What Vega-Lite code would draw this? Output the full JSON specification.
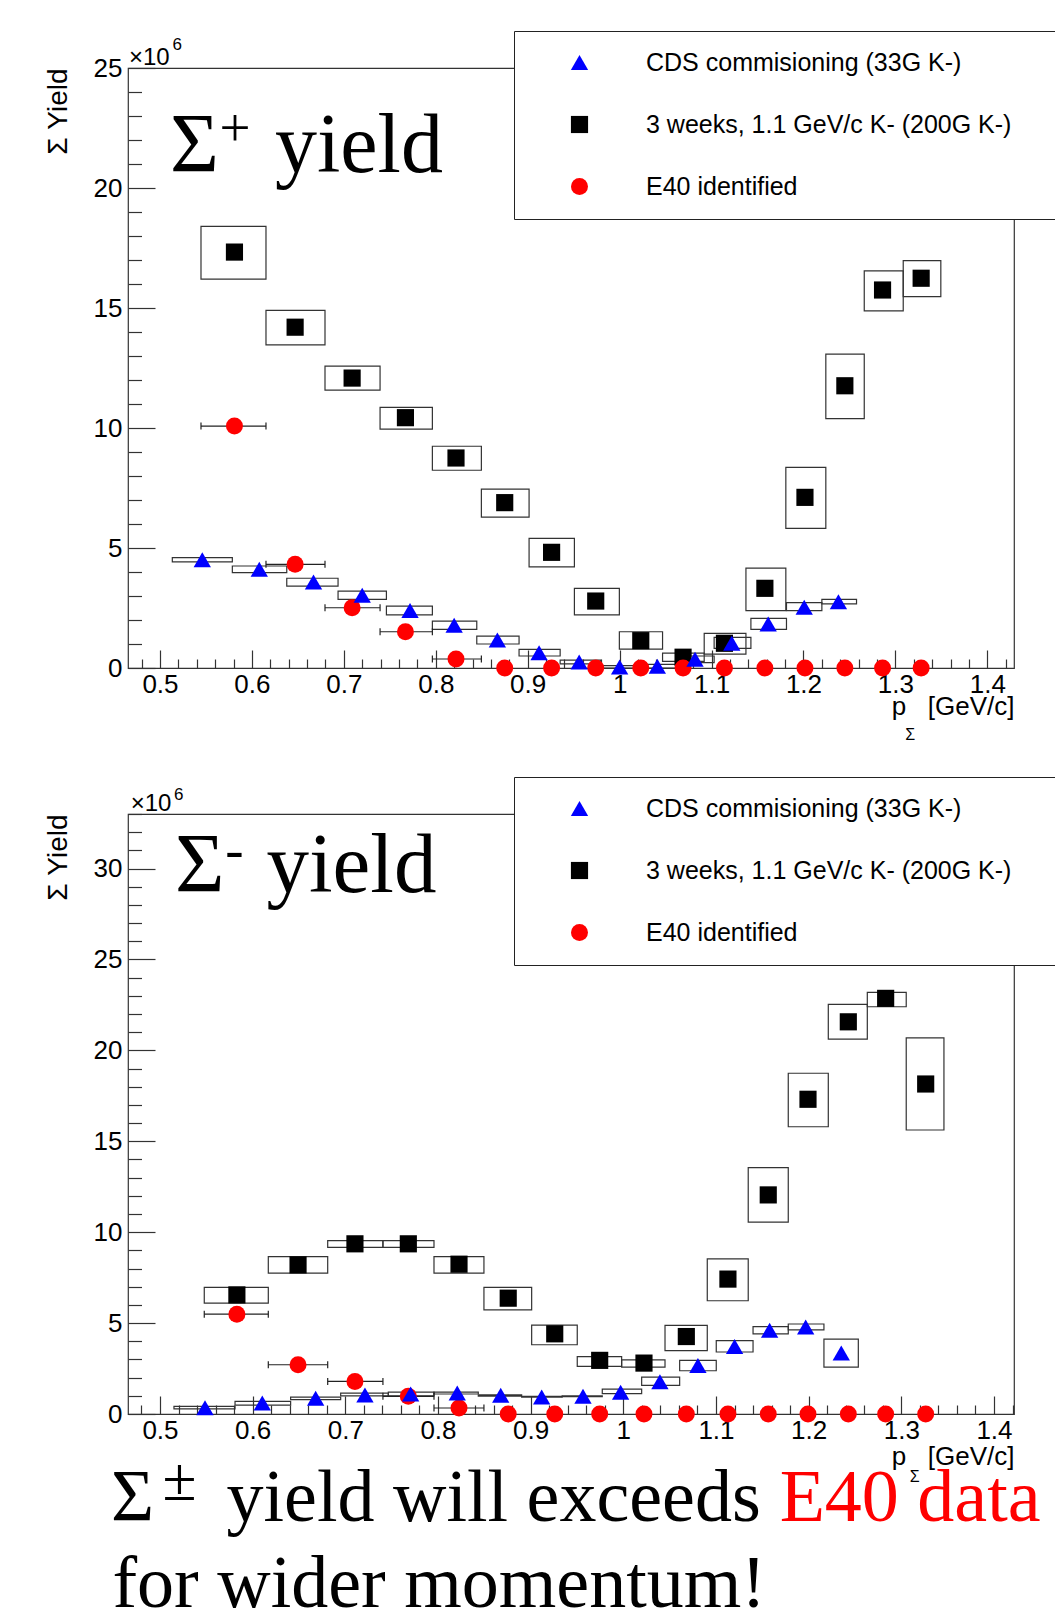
{
  "$schema": "https://vega.github.io/schema/vega-lite/v6.json",
  "autosize": {"type": "pad"},
  "padding": {"left": 43, "top": 29, "right": 0, "bottom": 0},
  "background": "white",
  "bounds": "flush",
  "spacing": 146,
  "datasets": {
    "top": [
      {"series": "3 weeks, 1.1 GeV/c K- (200G K-)", "x": 0.581, "y": 17.33, "xlo": 0.5446, "xhi": 0.6153, "ylo": 16.2, "yhi": 18.4},
      {"series": "3 weeks, 1.1 GeV/c K- (200G K-)", "x": 0.647, "y": 14.2, "xlo": 0.6153, "xhi": 0.6795, "ylo": 13.46, "yhi": 14.9},
      {"series": "3 weeks, 1.1 GeV/c K- (200G K-)", "x": 0.709, "y": 12.08, "xlo": 0.6795, "xhi": 0.7394, "ylo": 11.58, "yhi": 12.58},
      {"series": "3 weeks, 1.1 GeV/c K- (200G K-)", "x": 0.767, "y": 10.43, "xlo": 0.7394, "xhi": 0.7963, "ylo": 9.95, "yhi": 10.86},
      {"series": "3 weeks, 1.1 GeV/c K- (200G K-)", "x": 0.822, "y": 8.75, "xlo": 0.7963, "xhi": 0.8496, "ylo": 8.24, "yhi": 9.24},
      {"series": "3 weeks, 1.1 GeV/c K- (200G K-)", "x": 0.875, "y": 6.89, "xlo": 0.8496, "xhi": 0.9015, "ylo": 6.29, "yhi": 7.45},
      {"series": "3 weeks, 1.1 GeV/c K- (200G K-)", "x": 0.926, "y": 4.82, "xlo": 0.9015, "xhi": 0.9508, "ylo": 4.21, "yhi": 5.4},
      {"series": "3 weeks, 1.1 GeV/c K- (200G K-)", "x": 0.974, "y": 2.79, "xlo": 0.9508, "xhi": 0.9997, "ylo": 2.21, "yhi": 3.32},
      {"series": "3 weeks, 1.1 GeV/c K- (200G K-)", "x": 1.023, "y": 1.14, "xlo": 0.9997, "xhi": 1.0467, "ylo": 0.79, "yhi": 1.51},
      {"series": "3 weeks, 1.1 GeV/c K- (200G K-)", "x": 1.069, "y": 0.45, "xlo": 1.0467, "xhi": 1.092, "ylo": 0.28, "yhi": 0.62},
      {"series": "3 weeks, 1.1 GeV/c K- (200G K-)", "x": 1.114, "y": 1.03, "xlo": 1.092, "xhi": 1.1374, "ylo": 0.58, "yhi": 1.44},
      {"series": "3 weeks, 1.1 GeV/c K- (200G K-)", "x": 1.158, "y": 3.32, "xlo": 1.1374, "xhi": 1.1808, "ylo": 2.39, "yhi": 4.16},
      {"series": "3 weeks, 1.1 GeV/c K- (200G K-)", "x": 1.2016, "y": 7.11, "xlo": 1.1808, "xhi": 1.2243, "ylo": 5.82, "yhi": 8.36},
      {"series": "3 weeks, 1.1 GeV/c K- (200G K-)", "x": 1.245, "y": 11.76, "xlo": 1.2243, "xhi": 1.2661, "ylo": 10.39, "yhi": 13.08},
      {"series": "3 weeks, 1.1 GeV/c K- (200G K-)", "x": 1.286, "y": 15.75, "xlo": 1.2661, "xhi": 1.3085, "ylo": 14.88, "yhi": 16.55},
      {"series": "3 weeks, 1.1 GeV/c K- (200G K-)", "x": 1.328, "y": 16.24, "xlo": 1.3085, "xhi": 1.3494, "ylo": 15.47, "yhi": 16.97},
      {"series": "E40 identified", "x": 0.581, "y": 10.08, "xlo": 0.5446, "xhi": 0.6153},
      {"series": "E40 identified", "x": 0.647, "y": 4.32, "xlo": 0.6153, "xhi": 0.6795},
      {"series": "E40 identified", "x": 0.709, "y": 2.51, "xlo": 0.6795, "xhi": 0.7394},
      {"series": "E40 identified", "x": 0.767, "y": 1.51, "xlo": 0.7394, "xhi": 0.7963},
      {"series": "E40 identified", "x": 0.822, "y": 0.375, "xlo": 0.7963, "xhi": 0.8496},
      {"series": "E40 identified", "x": 0.875, "y": 0},
      {"series": "E40 identified", "x": 0.926, "y": 0},
      {"series": "E40 identified", "x": 0.974, "y": 0},
      {"series": "E40 identified", "x": 1.023, "y": 0},
      {"series": "E40 identified", "x": 1.069, "y": 0},
      {"series": "E40 identified", "x": 1.114, "y": 0},
      {"series": "E40 identified", "x": 1.158, "y": 0},
      {"series": "E40 identified", "x": 1.2016, "y": 0},
      {"series": "E40 identified", "x": 1.245, "y": 0},
      {"series": "E40 identified", "x": 1.286, "y": 0},
      {"series": "E40 identified", "x": 1.328, "y": 0},
      {"series": "CDS commisioning (33G K-)", "x": 0.546, "y": 4.51, "xlo": 0.5134, "xhi": 0.5787, "ylo": 4.42, "yhi": 4.6},
      {"series": "CDS commisioning (33G K-)", "x": 0.608, "y": 4.11, "xlo": 0.5787, "xhi": 0.6379, "ylo": 3.97, "yhi": 4.25},
      {"series": "CDS commisioning (33G K-)", "x": 0.667, "y": 3.58, "xlo": 0.6379, "xhi": 0.6937, "ylo": 3.41, "yhi": 3.74},
      {"series": "CDS commisioning (33G K-)", "x": 0.72, "y": 3.03, "xlo": 0.6937, "xhi": 0.7463, "ylo": 2.86, "yhi": 3.2},
      {"series": "CDS commisioning (33G K-)", "x": 0.772, "y": 2.4, "xlo": 0.7463, "xhi": 0.7963, "ylo": 2.21, "yhi": 2.58},
      {"series": "CDS commisioning (33G K-)", "x": 0.82, "y": 1.78, "xlo": 0.7963, "xhi": 0.8446, "ylo": 1.61, "yhi": 1.95},
      {"series": "CDS commisioning (33G K-)", "x": 0.867, "y": 1.17, "xlo": 0.8446, "xhi": 0.8906, "ylo": 1.0, "yhi": 1.33},
      {"series": "CDS commisioning (33G K-)", "x": 0.9124, "y": 0.64, "xlo": 0.8906, "xhi": 0.9353, "ylo": 0.5, "yhi": 0.78},
      {"series": "CDS commisioning (33G K-)", "x": 0.956, "y": 0.25, "xlo": 0.9353, "xhi": 0.9795, "ylo": 0.17, "yhi": 0.33},
      {"series": "CDS commisioning (33G K-)", "x": 1.0, "y": 0.04, "xlo": 0.9795, "xhi": 1.0212, "ylo": 0.0, "yhi": 0.1},
      {"series": "CDS commisioning (33G K-)", "x": 1.041, "y": 0.07, "xlo": 1.0212, "xhi": 1.0611, "ylo": 0.0, "yhi": 0.15},
      {"series": "CDS commisioning (33G K-)", "x": 1.082, "y": 0.36, "xlo": 1.0611, "xhi": 1.1028, "ylo": 0.22, "yhi": 0.5},
      {"series": "CDS commisioning (33G K-)", "x": 1.122, "y": 1.03, "xlo": 1.1028, "xhi": 1.1428, "ylo": 0.82, "yhi": 1.28},
      {"series": "CDS commisioning (33G K-)", "x": 1.1616, "y": 1.83, "xlo": 1.1428, "xhi": 1.1815, "ylo": 1.61, "yhi": 2.07},
      {"series": "CDS commisioning (33G K-)", "x": 1.2008, "y": 2.53, "xlo": 1.1815, "xhi": 1.22, "ylo": 2.39, "yhi": 2.72},
      {"series": "CDS commisioning (33G K-)", "x": 1.238, "y": 2.76, "xlo": 1.22, "xhi": 1.2577, "ylo": 2.67, "yhi": 2.86}
    ],
    "bot": [
      {"series": "3 weeks, 1.1 GeV/c K- (200G K-)", "x": 0.583, "y": 6.55, "xlo": 0.5478, "xhi": 0.6169, "ylo": 6.1, "yhi": 6.96},
      {"series": "3 weeks, 1.1 GeV/c K- (200G K-)", "x": 0.649, "y": 8.2, "xlo": 0.6169, "xhi": 0.681, "ylo": 7.75, "yhi": 8.66},
      {"series": "3 weeks, 1.1 GeV/c K- (200G K-)", "x": 0.7104, "y": 9.36, "xlo": 0.681, "xhi": 0.7406, "ylo": 9.16, "yhi": 9.54},
      {"series": "3 weeks, 1.1 GeV/c K- (200G K-)", "x": 0.768, "y": 9.36, "xlo": 0.7406, "xhi": 0.7957, "ylo": 9.16, "yhi": 9.54},
      {"series": "3 weeks, 1.1 GeV/c K- (200G K-)", "x": 0.8227, "y": 8.24, "xlo": 0.7957, "xhi": 0.8496, "ylo": 7.75, "yhi": 8.66},
      {"series": "3 weeks, 1.1 GeV/c K- (200G K-)", "x": 0.8758, "y": 6.37, "xlo": 0.8496, "xhi": 0.9011, "ylo": 5.73, "yhi": 6.96},
      {"series": "3 weeks, 1.1 GeV/c K- (200G K-)", "x": 0.926, "y": 4.41, "xlo": 0.9011, "xhi": 0.9503, "ylo": 3.81, "yhi": 4.89},
      {"series": "3 weeks, 1.1 GeV/c K- (200G K-)", "x": 0.9745, "y": 2.95, "xlo": 0.9503, "xhi": 0.9982, "ylo": 2.62, "yhi": 3.16},
      {"series": "3 weeks, 1.1 GeV/c K- (200G K-)", "x": 1.0223, "y": 2.8, "xlo": 0.9982, "xhi": 1.045, "ylo": 2.58, "yhi": 2.98},
      {"series": "3 weeks, 1.1 GeV/c K- (200G K-)", "x": 1.068, "y": 4.26, "xlo": 1.045, "xhi": 1.0906, "ylo": 3.49, "yhi": 4.87},
      {"series": "3 weeks, 1.1 GeV/c K- (200G K-)", "x": 1.1129, "y": 7.42, "xlo": 1.0906, "xhi": 1.1348, "ylo": 6.23, "yhi": 8.53},
      {"series": "3 weeks, 1.1 GeV/c K- (200G K-)", "x": 1.1564, "y": 12.05, "xlo": 1.1348, "xhi": 1.178, "ylo": 10.55, "yhi": 13.55},
      {"series": "3 weeks, 1.1 GeV/c K- (200G K-)", "x": 1.1993, "y": 17.31, "xlo": 1.178, "xhi": 1.2212, "ylo": 15.8, "yhi": 18.74},
      {"series": "3 weeks, 1.1 GeV/c K- (200G K-)", "x": 1.2428, "y": 21.57, "xlo": 1.2212, "xhi": 1.2633, "ylo": 20.62, "yhi": 22.53},
      {"series": "3 weeks, 1.1 GeV/c K- (200G K-)", "x": 1.2831, "y": 22.86, "xlo": 1.2633, "xhi": 1.3053, "ylo": 22.4, "yhi": 23.19},
      {"series": "3 weeks, 1.1 GeV/c K- (200G K-)", "x": 1.3263, "y": 18.15, "xlo": 1.3053, "xhi": 1.346, "ylo": 15.62, "yhi": 20.69},
      {"series": "E40 identified", "x": 0.583, "y": 5.49, "xlo": 0.5478, "xhi": 0.6169},
      {"series": "E40 identified", "x": 0.649, "y": 2.71, "xlo": 0.6169, "xhi": 0.681},
      {"series": "E40 identified", "x": 0.7104, "y": 1.79, "xlo": 0.681, "xhi": 0.7406},
      {"series": "E40 identified", "x": 0.768, "y": 0.97, "xlo": 0.7406, "xhi": 0.7957},
      {"series": "E40 identified", "x": 0.8227, "y": 0.33, "xlo": 0.7957, "xhi": 0.8496},
      {"series": "E40 identified", "x": 0.8758, "y": 0},
      {"series": "E40 identified", "x": 0.926, "y": 0},
      {"series": "E40 identified", "x": 0.9745, "y": 0},
      {"series": "E40 identified", "x": 1.0223, "y": 0},
      {"series": "E40 identified", "x": 1.068, "y": 0},
      {"series": "E40 identified", "x": 1.1129, "y": 0},
      {"series": "E40 identified", "x": 1.1564, "y": 0},
      {"series": "E40 identified", "x": 1.1993, "y": 0},
      {"series": "E40 identified", "x": 1.2428, "y": 0},
      {"series": "E40 identified", "x": 1.2831, "y": 0},
      {"series": "E40 identified", "x": 1.3263, "y": 0},
      {"series": "CDS commisioning (33G K-)", "x": 0.5486, "y": 0.35, "xlo": 0.5151, "xhi": 0.581, "ylo": 0.28, "yhi": 0.42},
      {"series": "CDS commisioning (33G K-)", "x": 0.6104, "y": 0.6, "xlo": 0.581, "xhi": 0.641, "ylo": 0.49, "yhi": 0.69},
      {"series": "CDS commisioning (33G K-)", "x": 0.668, "y": 0.86, "xlo": 0.641, "xhi": 0.695, "ylo": 0.79, "yhi": 0.93},
      {"series": "CDS commisioning (33G K-)", "x": 0.7212, "y": 1.05, "xlo": 0.695, "xhi": 0.7464, "ylo": 1.0, "yhi": 1.15},
      {"series": "CDS commisioning (33G K-)", "x": 0.7705, "y": 1.1, "xlo": 0.7464, "xhi": 0.7957, "ylo": 1.0, "yhi": 1.2},
      {"series": "CDS commisioning (33G K-)", "x": 0.8208, "y": 1.15, "xlo": 0.7957, "xhi": 0.8435, "ylo": 1.1, "yhi": 1.2},
      {"series": "CDS commisioning (33G K-)", "x": 0.8677, "y": 1.03, "xlo": 0.8435, "xhi": 0.8903, "ylo": 0.98, "yhi": 1.05},
      {"series": "CDS commisioning (33G K-)", "x": 0.9119, "y": 0.94, "xlo": 0.8903, "xhi": 0.934, "ylo": 0.92, "yhi": 0.97},
      {"series": "CDS commisioning (33G K-)", "x": 0.9565, "y": 0.98, "xlo": 0.934, "xhi": 0.9773, "ylo": 0.95, "yhi": 1.0},
      {"series": "CDS commisioning (33G K-)", "x": 0.9971, "y": 1.2, "xlo": 0.9773, "xhi": 1.0198, "ylo": 1.12, "yhi": 1.37},
      {"series": "CDS commisioning (33G K-)", "x": 1.0395, "y": 1.78, "xlo": 1.0198, "xhi": 1.0608, "ylo": 1.57, "yhi": 2.03},
      {"series": "CDS commisioning (33G K-)", "x": 1.0805, "y": 2.67, "xlo": 1.0608, "xhi": 1.1003, "ylo": 2.38, "yhi": 2.95},
      {"series": "CDS commisioning (33G K-)", "x": 1.1201, "y": 3.71, "xlo": 1.1003, "xhi": 1.14, "ylo": 3.41, "yhi": 4.04},
      {"series": "CDS commisioning (33G K-)", "x": 1.1579, "y": 4.6, "xlo": 1.14, "xhi": 1.178, "ylo": 4.41, "yhi": 4.81},
      {"series": "CDS commisioning (33G K-)", "x": 1.1968, "y": 4.78, "xlo": 1.178, "xhi": 1.2165, "ylo": 4.63, "yhi": 4.95},
      {"series": "CDS commisioning (33G K-)", "x": 1.2352, "y": 3.35, "xlo": 1.2165, "xhi": 1.2536, "ylo": 2.58, "yhi": 4.12}
    ]
  },
  "vconcat": [
    {
      "width": 886,
      "height": 600,
      "data": {"name": "top"},
      "layer": [
        {
          "transform": [{"filter": "isValid(datum.ylo)"}],
          "mark": {"type": "rect", "fill": "transparent", "stroke": "#333", "strokeWidth": 1.2},
          "encoding": {
            "x": {"field": "xlo", "type": "quantitative", "scale": {"domain": [0.4652, 1.429], "nice": false, "zero": false},
              "axis": {"values": [0.48, 0.5, 0.52, 0.54, 0.56, 0.58, 0.6, 0.62, 0.64, 0.66, 0.68, 0.7, 0.72, 0.74, 0.76, 0.78, 0.8, 0.82, 0.84, 0.86, 0.88, 0.9, 0.92, 0.94, 0.96, 0.98, 1, 1.02, 1.04, 1.06, 1.08, 1.1, 1.12, 1.14, 1.16, 1.18, 1.2, 1.22, 1.24, 1.26, 1.28, 1.3, 1.32, 1.34, 1.36, 1.38, 1.4, 1.42], "tickCount": 60, "labelExpr": "abs(datum.value*10 - round(datum.value*10)) < 0.001 ? format(datum.value, '~g') : ''", "tickSize": {"condition": {"test": "abs(datum.value*10 - round(datum.value*10)) < 0.001", "value": -18}, "value": -9}, "labelPadding": 21, "title": "p\u00a0\u00a0\u00a0[GeV/c]", "titleAnchor": "end", "titleFontSize": 26, "titlePadding": -13}},
            "x2": {"field": "xhi"},
            "y": {"field": "ylo", "type": "quantitative", "scale": {"domain": [0, 25], "nice": false, "zero": false},
              "axis": {"values": [0, 1, 2, 3, 4, 5, 6, 7, 8, 9, 10, 11, 12, 13, 14, 15, 16, 17, 18, 19, 20, 21, 22, 23, 24, 25], "tickCount": 40, "labelExpr": "datum.value % 5 == 0 ? format(datum.value, 'd') : ''", "tickSize": {"condition": {"test": "datum.value % 5 == 0", "value": -27}, "value": -13.5}, "labelPadding": 33, "title": "Σ Yield", "titleAnchor": "end", "titleFontSize": 28, "titlePadding": 21}},
            "y2": {"field": "yhi"}
          }
        },
        {
          "transform": [{"filter": "datum.series == 'E40 identified' && isValid(datum.xlo)"}],
          "mark": {"type": "rule", "color": "#222", "strokeWidth": 1.2},
          "encoding": {
            "x": {"field": "xlo", "type": "quantitative", "scale": {"domain": [0.4652, 1.429], "nice": false, "zero": false},
              "axis": {"values": [0.48, 0.5, 0.52, 0.54, 0.56, 0.58, 0.6, 0.62, 0.64, 0.66, 0.68, 0.7, 0.72, 0.74, 0.76, 0.78, 0.8, 0.82, 0.84, 0.86, 0.88, 0.9, 0.92, 0.94, 0.96, 0.98, 1, 1.02, 1.04, 1.06, 1.08, 1.1, 1.12, 1.14, 1.16, 1.18, 1.2, 1.22, 1.24, 1.26, 1.28, 1.3, 1.32, 1.34, 1.36, 1.38, 1.4, 1.42], "tickCount": 60, "labelExpr": "abs(datum.value*10 - round(datum.value*10)) < 0.001 ? format(datum.value, '~g') : ''", "tickSize": {"condition": {"test": "abs(datum.value*10 - round(datum.value*10)) < 0.001", "value": -18}, "value": -9}, "labelPadding": 21, "title": "p\u00a0\u00a0\u00a0[GeV/c]", "titleAnchor": "end", "titleFontSize": 26, "titlePadding": -13}},
            "x2": {"field": "xhi"},
            "y": {"field": "y", "type": "quantitative", "scale": {"domain": [0, 25], "nice": false, "zero": false},
              "axis": {"values": [0, 1, 2, 3, 4, 5, 6, 7, 8, 9, 10, 11, 12, 13, 14, 15, 16, 17, 18, 19, 20, 21, 22, 23, 24, 25], "tickCount": 40, "labelExpr": "datum.value % 5 == 0 ? format(datum.value, 'd') : ''", "tickSize": {"condition": {"test": "datum.value % 5 == 0", "value": -27}, "value": -13.5}, "labelPadding": 33, "title": "Σ Yield", "titleAnchor": "end", "titleFontSize": 28, "titlePadding": 21}}
          }
        },
        {
          "transform": [{"filter": "datum.series == 'E40 identified' && isValid(datum.xlo)"}, {"fold": ["xlo", "xhi"], "as": ["end", "xe"]}],
          "mark": {"type": "tick", "orient": "vertical", "size": 7, "thickness": 1.2, "color": "#222", "opacity": 1},
          "encoding": {
            "x": {"field": "xe", "type": "quantitative", "scale": {"domain": [0.4652, 1.429], "nice": false, "zero": false},
              "axis": {"values": [0.48, 0.5, 0.52, 0.54, 0.56, 0.58, 0.6, 0.62, 0.64, 0.66, 0.68, 0.7, 0.72, 0.74, 0.76, 0.78, 0.8, 0.82, 0.84, 0.86, 0.88, 0.9, 0.92, 0.94, 0.96, 0.98, 1, 1.02, 1.04, 1.06, 1.08, 1.1, 1.12, 1.14, 1.16, 1.18, 1.2, 1.22, 1.24, 1.26, 1.28, 1.3, 1.32, 1.34, 1.36, 1.38, 1.4, 1.42], "tickCount": 60, "labelExpr": "abs(datum.value*10 - round(datum.value*10)) < 0.001 ? format(datum.value, '~g') : ''", "tickSize": {"condition": {"test": "abs(datum.value*10 - round(datum.value*10)) < 0.001", "value": -18}, "value": -9}, "labelPadding": 21, "title": "p\u00a0\u00a0\u00a0[GeV/c]", "titleAnchor": "end", "titleFontSize": 26, "titlePadding": -13}},
            "y": {"field": "y", "type": "quantitative", "scale": {"domain": [0, 25], "nice": false, "zero": false},
              "axis": {"values": [0, 1, 2, 3, 4, 5, 6, 7, 8, 9, 10, 11, 12, 13, 14, 15, 16, 17, 18, 19, 20, 21, 22, 23, 24, 25], "tickCount": 40, "labelExpr": "datum.value % 5 == 0 ? format(datum.value, 'd') : ''", "tickSize": {"condition": {"test": "datum.value % 5 == 0", "value": -27}, "value": -13.5}, "labelPadding": 33, "title": "Σ Yield", "titleAnchor": "end", "titleFontSize": 28, "titlePadding": 21}}
          }
        },
        {
          "mark": {"type": "point", "filled": true, "opacity": 1, "strokeWidth": 0},
          "encoding": {
            "x": {"field": "x", "type": "quantitative", "scale": {"domain": [0.4652, 1.429], "nice": false, "zero": false},
              "axis": {"values": [0.48, 0.5, 0.52, 0.54, 0.56, 0.58, 0.6, 0.62, 0.64, 0.66, 0.68, 0.7, 0.72, 0.74, 0.76, 0.78, 0.8, 0.82, 0.84, 0.86, 0.88, 0.9, 0.92, 0.94, 0.96, 0.98, 1, 1.02, 1.04, 1.06, 1.08, 1.1, 1.12, 1.14, 1.16, 1.18, 1.2, 1.22, 1.24, 1.26, 1.28, 1.3, 1.32, 1.34, 1.36, 1.38, 1.4, 1.42], "tickCount": 60, "labelExpr": "abs(datum.value*10 - round(datum.value*10)) < 0.001 ? format(datum.value, '~g') : ''", "tickSize": {"condition": {"test": "abs(datum.value*10 - round(datum.value*10)) < 0.001", "value": -18}, "value": -9}, "labelPadding": 21, "title": "p\u00a0\u00a0\u00a0[GeV/c]", "titleAnchor": "end", "titleFontSize": 26, "titlePadding": -13}},
            "y": {"field": "y", "type": "quantitative", "scale": {"domain": [0, 25], "nice": false, "zero": false},
              "axis": {"values": [0, 1, 2, 3, 4, 5, 6, 7, 8, 9, 10, 11, 12, 13, 14, 15, 16, 17, 18, 19, 20, 21, 22, 23, 24, 25], "tickCount": 40, "labelExpr": "datum.value % 5 == 0 ? format(datum.value, 'd') : ''", "tickSize": {"condition": {"test": "datum.value % 5 == 0", "value": -27}, "value": -13.5}, "labelPadding": 33, "title": "Σ Yield", "titleAnchor": "end", "titleFontSize": 28, "titlePadding": 21}},
            "size": {"field": "series", "type": "nominal", "scale": {"domain": ["CDS commisioning (33G K-)", "3 weeks, 1.1 GeV/c K- (200G K-)", "E40 identified"], "range": [300, 289, 230]}, "legend": null},
            "color": {"field": "series", "type": "nominal",
              "scale": {"domain": ["CDS commisioning (33G K-)", "3 weeks, 1.1 GeV/c K- (200G K-)", "E40 identified"], "range": ["#0000ff", "#000000", "#ff0000"]},
              "legend": {"title": "MMMMMM", "titleOrient": "right", "titleColor": "white", "titleFontSize": 25, "titlePadding": 0, "orient": "none", "legendX": 386, "legendY": -37, "padding": 19, "fillColor": "white", "strokeColor": "#222", "symbolSize": 280, "symbolOffset": 34, "labelOffset": 54, "rowPadding": 36, "labelFont": "Liberation Sans", "labelFontSize": 25, "labelColor": "black", "labelLimit": 1000, "symbolStrokeWidth": 0}},
            "shape": {"field": "series", "type": "nominal",
              "scale": {"domain": ["CDS commisioning (33G K-)", "3 weeks, 1.1 GeV/c K- (200G K-)", "E40 identified"], "range": ["triangle-up", "square", "circle"]},
              "legend": {"title": "MMMMMM", "titleOrient": "right", "titleColor": "white", "titleFontSize": 25, "titlePadding": 0, "orient": "none", "legendX": 386, "legendY": -37, "padding": 19, "fillColor": "white", "strokeColor": "#222", "symbolSize": 280, "symbolOffset": 34, "labelOffset": 54, "rowPadding": 36, "labelFont": "Liberation Sans", "labelFontSize": 25, "labelColor": "black", "labelLimit": 1000, "symbolStrokeWidth": 0}}
          }
        },
        {
          "data": {"values": [{"t": "Σ"}]},
          "mark": {"type": "text", "font": "Liberation Serif", "fontSize": 84, "align": "left", "baseline": "alphabetic", "color": "black"},
          "encoding": {
            "text": {"field": "t"},
            "x": {"datum": 0.5109, "type": "quantitative", "scale": {"domain": [0.4652, 1.429], "nice": false, "zero": false},
              "axis": {"values": [0.48, 0.5, 0.52, 0.54, 0.56, 0.58, 0.6, 0.62, 0.64, 0.66, 0.68, 0.7, 0.72, 0.74, 0.76, 0.78, 0.8, 0.82, 0.84, 0.86, 0.88, 0.9, 0.92, 0.94, 0.96, 0.98, 1, 1.02, 1.04, 1.06, 1.08, 1.1, 1.12, 1.14, 1.16, 1.18, 1.2, 1.22, 1.24, 1.26, 1.28, 1.3, 1.32, 1.34, 1.36, 1.38, 1.4, 1.42], "tickCount": 60, "labelExpr": "abs(datum.value*10 - round(datum.value*10)) < 0.001 ? format(datum.value, '~g') : ''", "tickSize": {"condition": {"test": "abs(datum.value*10 - round(datum.value*10)) < 0.001", "value": -18}, "value": -9}, "labelPadding": 21, "title": "p\u00a0\u00a0\u00a0[GeV/c]", "titleAnchor": "end", "titleFontSize": 26, "titlePadding": -13}},
            "y": {"datum": 20.68, "type": "quantitative", "scale": {"domain": [0, 25], "nice": false, "zero": false},
              "axis": {"values": [0, 1, 2, 3, 4, 5, 6, 7, 8, 9, 10, 11, 12, 13, 14, 15, 16, 17, 18, 19, 20, 21, 22, 23, 24, 25], "tickCount": 40, "labelExpr": "datum.value % 5 == 0 ? format(datum.value, 'd') : ''", "tickSize": {"condition": {"test": "datum.value % 5 == 0", "value": -27}, "value": -13.5}, "labelPadding": 33, "title": "Σ Yield", "titleAnchor": "end", "titleFontSize": 28, "titlePadding": 21}}
          }
        },
        {
          "data": {"values": [{"t": "+"}]},
          "mark": {"type": "text", "font": "Liberation Serif", "fontSize": 55, "align": "center", "baseline": "alphabetic", "color": "black"},
          "encoding": {
            "text": {"field": "t"},
            "x": {"datum": 0.5816, "type": "quantitative", "scale": {"domain": [0.4652, 1.429], "nice": false, "zero": false},
              "axis": {"values": [0.48, 0.5, 0.52, 0.54, 0.56, 0.58, 0.6, 0.62, 0.64, 0.66, 0.68, 0.7, 0.72, 0.74, 0.76, 0.78, 0.8, 0.82, 0.84, 0.86, 0.88, 0.9, 0.92, 0.94, 0.96, 0.98, 1, 1.02, 1.04, 1.06, 1.08, 1.1, 1.12, 1.14, 1.16, 1.18, 1.2, 1.22, 1.24, 1.26, 1.28, 1.3, 1.32, 1.34, 1.36, 1.38, 1.4, 1.42], "tickCount": 60, "labelExpr": "abs(datum.value*10 - round(datum.value*10)) < 0.001 ? format(datum.value, '~g') : ''", "tickSize": {"condition": {"test": "abs(datum.value*10 - round(datum.value*10)) < 0.001", "value": -18}, "value": -9}, "labelPadding": 21, "title": "p\u00a0\u00a0\u00a0[GeV/c]", "titleAnchor": "end", "titleFontSize": 26, "titlePadding": -13}},
            "y": {"datum": 21.75, "type": "quantitative", "scale": {"domain": [0, 25], "nice": false, "zero": false},
              "axis": {"values": [0, 1, 2, 3, 4, 5, 6, 7, 8, 9, 10, 11, 12, 13, 14, 15, 16, 17, 18, 19, 20, 21, 22, 23, 24, 25], "tickCount": 40, "labelExpr": "datum.value % 5 == 0 ? format(datum.value, 'd') : ''", "tickSize": {"condition": {"test": "datum.value % 5 == 0", "value": -27}, "value": -13.5}, "labelPadding": 33, "title": "Σ Yield", "titleAnchor": "end", "titleFontSize": 28, "titlePadding": 21}}
          }
        },
        {
          "data": {"values": [{"t": "yield"}]},
          "mark": {"type": "text", "font": "Liberation Serif", "fontSize": 84, "align": "left", "baseline": "alphabetic", "color": "black"},
          "encoding": {
            "text": {"field": "t"},
            "x": {"datum": 0.6251, "type": "quantitative", "scale": {"domain": [0.4652, 1.429], "nice": false, "zero": false},
              "axis": {"values": [0.48, 0.5, 0.52, 0.54, 0.56, 0.58, 0.6, 0.62, 0.64, 0.66, 0.68, 0.7, 0.72, 0.74, 0.76, 0.78, 0.8, 0.82, 0.84, 0.86, 0.88, 0.9, 0.92, 0.94, 0.96, 0.98, 1, 1.02, 1.04, 1.06, 1.08, 1.1, 1.12, 1.14, 1.16, 1.18, 1.2, 1.22, 1.24, 1.26, 1.28, 1.3, 1.32, 1.34, 1.36, 1.38, 1.4, 1.42], "tickCount": 60, "labelExpr": "abs(datum.value*10 - round(datum.value*10)) < 0.001 ? format(datum.value, '~g') : ''", "tickSize": {"condition": {"test": "abs(datum.value*10 - round(datum.value*10)) < 0.001", "value": -18}, "value": -9}, "labelPadding": 21, "title": "p\u00a0\u00a0\u00a0[GeV/c]", "titleAnchor": "end", "titleFontSize": 26, "titlePadding": -13}},
            "y": {"datum": 20.68, "type": "quantitative", "scale": {"domain": [0, 25], "nice": false, "zero": false},
              "axis": {"values": [0, 1, 2, 3, 4, 5, 6, 7, 8, 9, 10, 11, 12, 13, 14, 15, 16, 17, 18, 19, 20, 21, 22, 23, 24, 25], "tickCount": 40, "labelExpr": "datum.value % 5 == 0 ? format(datum.value, 'd') : ''", "tickSize": {"condition": {"test": "datum.value % 5 == 0", "value": -27}, "value": -13.5}, "labelPadding": 33, "title": "Σ Yield", "titleAnchor": "end", "titleFontSize": 28, "titlePadding": 21}}
          }
        },
        {
          "data": {"values": [{"t": "×10"}]},
          "mark": {"type": "text", "font": "Liberation Sans", "fontSize": 24, "align": "left", "baseline": "alphabetic", "color": "black"},
          "encoding": {
            "text": {"field": "t"},
            "x": {"datum": 0.4663, "type": "quantitative", "scale": {"domain": [0.4652, 1.429], "nice": false, "zero": false},
              "axis": {"values": [0.48, 0.5, 0.52, 0.54, 0.56, 0.58, 0.6, 0.62, 0.64, 0.66, 0.68, 0.7, 0.72, 0.74, 0.76, 0.78, 0.8, 0.82, 0.84, 0.86, 0.88, 0.9, 0.92, 0.94, 0.96, 0.98, 1, 1.02, 1.04, 1.06, 1.08, 1.1, 1.12, 1.14, 1.16, 1.18, 1.2, 1.22, 1.24, 1.26, 1.28, 1.3, 1.32, 1.34, 1.36, 1.38, 1.4, 1.42], "tickCount": 60, "labelExpr": "abs(datum.value*10 - round(datum.value*10)) < 0.001 ? format(datum.value, '~g') : ''", "tickSize": {"condition": {"test": "abs(datum.value*10 - round(datum.value*10)) < 0.001", "value": -18}, "value": -9}, "labelPadding": 21, "title": "p\u00a0\u00a0\u00a0[GeV/c]", "titleAnchor": "end", "titleFontSize": 26, "titlePadding": -13}},
            "y": {"datum": 25.125, "type": "quantitative", "scale": {"domain": [0, 25], "nice": false, "zero": false},
              "axis": {"values": [0, 1, 2, 3, 4, 5, 6, 7, 8, 9, 10, 11, 12, 13, 14, 15, 16, 17, 18, 19, 20, 21, 22, 23, 24, 25], "tickCount": 40, "labelExpr": "datum.value % 5 == 0 ? format(datum.value, 'd') : ''", "tickSize": {"condition": {"test": "datum.value % 5 == 0", "value": -27}, "value": -13.5}, "labelPadding": 33, "title": "Σ Yield", "titleAnchor": "end", "titleFontSize": 28, "titlePadding": 21}}
          }
        },
        {
          "data": {"values": [{"t": "6"}]},
          "mark": {"type": "text", "font": "Liberation Sans", "fontSize": 17, "align": "left", "baseline": "alphabetic", "color": "black"},
          "encoding": {
            "text": {"field": "t"},
            "x": {"datum": 0.5136, "type": "quantitative", "scale": {"domain": [0.4652, 1.429], "nice": false, "zero": false},
              "axis": {"values": [0.48, 0.5, 0.52, 0.54, 0.56, 0.58, 0.6, 0.62, 0.64, 0.66, 0.68, 0.7, 0.72, 0.74, 0.76, 0.78, 0.8, 0.82, 0.84, 0.86, 0.88, 0.9, 0.92, 0.94, 0.96, 0.98, 1, 1.02, 1.04, 1.06, 1.08, 1.1, 1.12, 1.14, 1.16, 1.18, 1.2, 1.22, 1.24, 1.26, 1.28, 1.3, 1.32, 1.34, 1.36, 1.38, 1.4, 1.42], "tickCount": 60, "labelExpr": "abs(datum.value*10 - round(datum.value*10)) < 0.001 ? format(datum.value, '~g') : ''", "tickSize": {"condition": {"test": "abs(datum.value*10 - round(datum.value*10)) < 0.001", "value": -18}, "value": -9}, "labelPadding": 21, "title": "p\u00a0\u00a0\u00a0[GeV/c]", "titleAnchor": "end", "titleFontSize": 26, "titlePadding": -13}},
            "y": {"datum": 25.75, "type": "quantitative", "scale": {"domain": [0, 25], "nice": false, "zero": false},
              "axis": {"values": [0, 1, 2, 3, 4, 5, 6, 7, 8, 9, 10, 11, 12, 13, 14, 15, 16, 17, 18, 19, 20, 21, 22, 23, 24, 25], "tickCount": 40, "labelExpr": "datum.value % 5 == 0 ? format(datum.value, 'd') : ''", "tickSize": {"condition": {"test": "datum.value % 5 == 0", "value": -27}, "value": -13.5}, "labelPadding": 33, "title": "Σ Yield", "titleAnchor": "end", "titleFontSize": 28, "titlePadding": 21}}
          }
        },
        {
          "data": {"values": [{"t": "Σ"}]},
          "mark": {"type": "text", "font": "Liberation Sans", "fontSize": 16, "align": "center", "baseline": "alphabetic", "color": "black"},
          "encoding": {
            "text": {"field": "t"},
            "x": {"datum": 1.316, "type": "quantitative", "scale": {"domain": [0.4652, 1.429], "nice": false, "zero": false},
              "axis": {"values": [0.48, 0.5, 0.52, 0.54, 0.56, 0.58, 0.6, 0.62, 0.64, 0.66, 0.68, 0.7, 0.72, 0.74, 0.76, 0.78, 0.8, 0.82, 0.84, 0.86, 0.88, 0.9, 0.92, 0.94, 0.96, 0.98, 1, 1.02, 1.04, 1.06, 1.08, 1.1, 1.12, 1.14, 1.16, 1.18, 1.2, 1.22, 1.24, 1.26, 1.28, 1.3, 1.32, 1.34, 1.36, 1.38, 1.4, 1.42], "tickCount": 60, "labelExpr": "abs(datum.value*10 - round(datum.value*10)) < 0.001 ? format(datum.value, '~g') : ''", "tickSize": {"condition": {"test": "abs(datum.value*10 - round(datum.value*10)) < 0.001", "value": -18}, "value": -9}, "labelPadding": 21, "title": "p\u00a0\u00a0\u00a0[GeV/c]", "titleAnchor": "end", "titleFontSize": 26, "titlePadding": -13}},
            "y": {"datum": -3.0, "type": "quantitative", "scale": {"domain": [0, 25], "nice": false, "zero": false},
              "axis": {"values": [0, 1, 2, 3, 4, 5, 6, 7, 8, 9, 10, 11, 12, 13, 14, 15, 16, 17, 18, 19, 20, 21, 22, 23, 24, 25], "tickCount": 40, "labelExpr": "datum.value % 5 == 0 ? format(datum.value, 'd') : ''", "tickSize": {"condition": {"test": "datum.value % 5 == 0", "value": -27}, "value": -13.5}, "labelPadding": 33, "title": "Σ Yield", "titleAnchor": "end", "titleFontSize": 28, "titlePadding": 21}}
          }
        }
      ]
    },
    {
      "width": 886,
      "height": 600,
      "data": {"name": "bot"},
      "layer": [
        {
          "transform": [{"filter": "isValid(datum.ylo)"}],
          "mark": {"type": "rect", "fill": "transparent", "stroke": "#333", "strokeWidth": 1.2},
          "encoding": {
            "x": {"field": "xlo", "type": "quantitative", "scale": {"domain": [0.4655, 1.4216], "nice": false, "zero": false},
              "axis": {"values": [0.48, 0.5, 0.52, 0.54, 0.56, 0.58, 0.6, 0.62, 0.64, 0.66, 0.68, 0.7, 0.72, 0.74, 0.76, 0.78, 0.8, 0.82, 0.84, 0.86, 0.88, 0.9, 0.92, 0.94, 0.96, 0.98, 1, 1.02, 1.04, 1.06, 1.08, 1.1, 1.12, 1.14, 1.16, 1.18, 1.2, 1.22, 1.24, 1.26, 1.28, 1.3, 1.32, 1.34, 1.36, 1.38, 1.4, 1.42], "tickCount": 60, "labelExpr": "abs(datum.value*10 - round(datum.value*10)) < 0.001 ? format(datum.value, '~g') : ''", "tickSize": {"condition": {"test": "abs(datum.value*10 - round(datum.value*10)) < 0.001", "value": -18}, "value": -9}, "labelPadding": 21, "title": "p\u00a0\u00a0\u00a0[GeV/c]", "titleAnchor": "end", "titleFontSize": 26, "titlePadding": -9}},
            "x2": {"field": "xhi"},
            "y": {"field": "ylo", "type": "quantitative", "scale": {"domain": [0, 33], "nice": false, "zero": false},
              "axis": {"values": [0, 1, 2, 3, 4, 5, 6, 7, 8, 9, 10, 11, 12, 13, 14, 15, 16, 17, 18, 19, 20, 21, 22, 23, 24, 25, 26, 27, 28, 29, 30, 31, 32, 33], "tickCount": 50, "labelExpr": "datum.value % 5 == 0 ? format(datum.value, 'd') : ''", "tickSize": {"condition": {"test": "datum.value % 5 == 0", "value": -27}, "value": -13.5}, "labelPadding": 33, "title": "Σ Yield", "titleAnchor": "end", "titleFontSize": 28, "titlePadding": 21}},
            "y2": {"field": "yhi"}
          }
        },
        {
          "transform": [{"filter": "datum.series == 'E40 identified' && isValid(datum.xlo)"}],
          "mark": {"type": "rule", "color": "#222", "strokeWidth": 1.2},
          "encoding": {
            "x": {"field": "xlo", "type": "quantitative", "scale": {"domain": [0.4655, 1.4216], "nice": false, "zero": false},
              "axis": {"values": [0.48, 0.5, 0.52, 0.54, 0.56, 0.58, 0.6, 0.62, 0.64, 0.66, 0.68, 0.7, 0.72, 0.74, 0.76, 0.78, 0.8, 0.82, 0.84, 0.86, 0.88, 0.9, 0.92, 0.94, 0.96, 0.98, 1, 1.02, 1.04, 1.06, 1.08, 1.1, 1.12, 1.14, 1.16, 1.18, 1.2, 1.22, 1.24, 1.26, 1.28, 1.3, 1.32, 1.34, 1.36, 1.38, 1.4, 1.42], "tickCount": 60, "labelExpr": "abs(datum.value*10 - round(datum.value*10)) < 0.001 ? format(datum.value, '~g') : ''", "tickSize": {"condition": {"test": "abs(datum.value*10 - round(datum.value*10)) < 0.001", "value": -18}, "value": -9}, "labelPadding": 21, "title": "p\u00a0\u00a0\u00a0[GeV/c]", "titleAnchor": "end", "titleFontSize": 26, "titlePadding": -9}},
            "x2": {"field": "xhi"},
            "y": {"field": "y", "type": "quantitative", "scale": {"domain": [0, 33], "nice": false, "zero": false},
              "axis": {"values": [0, 1, 2, 3, 4, 5, 6, 7, 8, 9, 10, 11, 12, 13, 14, 15, 16, 17, 18, 19, 20, 21, 22, 23, 24, 25, 26, 27, 28, 29, 30, 31, 32, 33], "tickCount": 50, "labelExpr": "datum.value % 5 == 0 ? format(datum.value, 'd') : ''", "tickSize": {"condition": {"test": "datum.value % 5 == 0", "value": -27}, "value": -13.5}, "labelPadding": 33, "title": "Σ Yield", "titleAnchor": "end", "titleFontSize": 28, "titlePadding": 21}}
          }
        },
        {
          "transform": [{"filter": "datum.series == 'E40 identified' && isValid(datum.xlo)"}, {"fold": ["xlo", "xhi"], "as": ["end", "xe"]}],
          "mark": {"type": "tick", "orient": "vertical", "size": 7, "thickness": 1.2, "color": "#222", "opacity": 1},
          "encoding": {
            "x": {"field": "xe", "type": "quantitative", "scale": {"domain": [0.4655, 1.4216], "nice": false, "zero": false},
              "axis": {"values": [0.48, 0.5, 0.52, 0.54, 0.56, 0.58, 0.6, 0.62, 0.64, 0.66, 0.68, 0.7, 0.72, 0.74, 0.76, 0.78, 0.8, 0.82, 0.84, 0.86, 0.88, 0.9, 0.92, 0.94, 0.96, 0.98, 1, 1.02, 1.04, 1.06, 1.08, 1.1, 1.12, 1.14, 1.16, 1.18, 1.2, 1.22, 1.24, 1.26, 1.28, 1.3, 1.32, 1.34, 1.36, 1.38, 1.4, 1.42], "tickCount": 60, "labelExpr": "abs(datum.value*10 - round(datum.value*10)) < 0.001 ? format(datum.value, '~g') : ''", "tickSize": {"condition": {"test": "abs(datum.value*10 - round(datum.value*10)) < 0.001", "value": -18}, "value": -9}, "labelPadding": 21, "title": "p\u00a0\u00a0\u00a0[GeV/c]", "titleAnchor": "end", "titleFontSize": 26, "titlePadding": -9}},
            "y": {"field": "y", "type": "quantitative", "scale": {"domain": [0, 33], "nice": false, "zero": false},
              "axis": {"values": [0, 1, 2, 3, 4, 5, 6, 7, 8, 9, 10, 11, 12, 13, 14, 15, 16, 17, 18, 19, 20, 21, 22, 23, 24, 25, 26, 27, 28, 29, 30, 31, 32, 33], "tickCount": 50, "labelExpr": "datum.value % 5 == 0 ? format(datum.value, 'd') : ''", "tickSize": {"condition": {"test": "datum.value % 5 == 0", "value": -27}, "value": -13.5}, "labelPadding": 33, "title": "Σ Yield", "titleAnchor": "end", "titleFontSize": 28, "titlePadding": 21}}
          }
        },
        {
          "mark": {"type": "point", "filled": true, "opacity": 1, "strokeWidth": 0},
          "encoding": {
            "x": {"field": "x", "type": "quantitative", "scale": {"domain": [0.4655, 1.4216], "nice": false, "zero": false},
              "axis": {"values": [0.48, 0.5, 0.52, 0.54, 0.56, 0.58, 0.6, 0.62, 0.64, 0.66, 0.68, 0.7, 0.72, 0.74, 0.76, 0.78, 0.8, 0.82, 0.84, 0.86, 0.88, 0.9, 0.92, 0.94, 0.96, 0.98, 1, 1.02, 1.04, 1.06, 1.08, 1.1, 1.12, 1.14, 1.16, 1.18, 1.2, 1.22, 1.24, 1.26, 1.28, 1.3, 1.32, 1.34, 1.36, 1.38, 1.4, 1.42], "tickCount": 60, "labelExpr": "abs(datum.value*10 - round(datum.value*10)) < 0.001 ? format(datum.value, '~g') : ''", "tickSize": {"condition": {"test": "abs(datum.value*10 - round(datum.value*10)) < 0.001", "value": -18}, "value": -9}, "labelPadding": 21, "title": "p\u00a0\u00a0\u00a0[GeV/c]", "titleAnchor": "end", "titleFontSize": 26, "titlePadding": -9}},
            "y": {"field": "y", "type": "quantitative", "scale": {"domain": [0, 33], "nice": false, "zero": false},
              "axis": {"values": [0, 1, 2, 3, 4, 5, 6, 7, 8, 9, 10, 11, 12, 13, 14, 15, 16, 17, 18, 19, 20, 21, 22, 23, 24, 25, 26, 27, 28, 29, 30, 31, 32, 33], "tickCount": 50, "labelExpr": "datum.value % 5 == 0 ? format(datum.value, 'd') : ''", "tickSize": {"condition": {"test": "datum.value % 5 == 0", "value": -27}, "value": -13.5}, "labelPadding": 33, "title": "Σ Yield", "titleAnchor": "end", "titleFontSize": 28, "titlePadding": 21}},
            "size": {"field": "series", "type": "nominal", "scale": {"domain": ["CDS commisioning (33G K-)", "3 weeks, 1.1 GeV/c K- (200G K-)", "E40 identified"], "range": [300, 289, 230]}, "legend": null},
            "color": {"field": "series", "type": "nominal",
              "scale": {"domain": ["CDS commisioning (33G K-)", "3 weeks, 1.1 GeV/c K- (200G K-)", "E40 identified"], "range": ["#0000ff", "#000000", "#ff0000"]},
              "legend": {"title": "MMMMMM", "titleOrient": "right", "titleColor": "white", "titleFontSize": 25, "titlePadding": 0, "orient": "none", "legendX": 386, "legendY": -37, "padding": 19, "fillColor": "white", "strokeColor": "#222", "symbolSize": 280, "symbolOffset": 34, "labelOffset": 54, "rowPadding": 36, "labelFont": "Liberation Sans", "labelFontSize": 25, "labelColor": "black", "labelLimit": 1000, "symbolStrokeWidth": 0}},
            "shape": {"field": "series", "type": "nominal",
              "scale": {"domain": ["CDS commisioning (33G K-)", "3 weeks, 1.1 GeV/c K- (200G K-)", "E40 identified"], "range": ["triangle-up", "square", "circle"]},
              "legend": {"title": "MMMMMM", "titleOrient": "right", "titleColor": "white", "titleFontSize": 25, "titlePadding": 0, "orient": "none", "legendX": 386, "legendY": -37, "padding": 19, "fillColor": "white", "strokeColor": "#222", "symbolSize": 280, "symbolOffset": 34, "labelOffset": 54, "rowPadding": 36, "labelFont": "Liberation Sans", "labelFontSize": 25, "labelColor": "black", "labelLimit": 1000, "symbolStrokeWidth": 0}}
          }
        },
        {
          "data": {"values": [{"t": "Σ"}]},
          "mark": {"type": "text", "font": "Liberation Serif", "fontSize": 85, "align": "left", "baseline": "alphabetic", "color": "black"},
          "encoding": {
            "text": {"field": "t"},
            "x": {"datum": 0.5162, "type": "quantitative", "scale": {"domain": [0.4655, 1.4216], "nice": false, "zero": false},
              "axis": {"values": [0.48, 0.5, 0.52, 0.54, 0.56, 0.58, 0.6, 0.62, 0.64, 0.66, 0.68, 0.7, 0.72, 0.74, 0.76, 0.78, 0.8, 0.82, 0.84, 0.86, 0.88, 0.9, 0.92, 0.94, 0.96, 0.98, 1, 1.02, 1.04, 1.06, 1.08, 1.1, 1.12, 1.14, 1.16, 1.18, 1.2, 1.22, 1.24, 1.26, 1.28, 1.3, 1.32, 1.34, 1.36, 1.38, 1.4, 1.42], "tickCount": 60, "labelExpr": "abs(datum.value*10 - round(datum.value*10)) < 0.001 ? format(datum.value, '~g') : ''", "tickSize": {"condition": {"test": "abs(datum.value*10 - round(datum.value*10)) < 0.001", "value": -18}, "value": -9}, "labelPadding": 21, "title": "p\u00a0\u00a0\u00a0[GeV/c]", "titleAnchor": "end", "titleFontSize": 26, "titlePadding": -9}},
            "y": {"datum": 28.71, "type": "quantitative", "scale": {"domain": [0, 33], "nice": false, "zero": false},
              "axis": {"values": [0, 1, 2, 3, 4, 5, 6, 7, 8, 9, 10, 11, 12, 13, 14, 15, 16, 17, 18, 19, 20, 21, 22, 23, 24, 25, 26, 27, 28, 29, 30, 31, 32, 33], "tickCount": 50, "labelExpr": "datum.value % 5 == 0 ? format(datum.value, 'd') : ''", "tickSize": {"condition": {"test": "datum.value % 5 == 0", "value": -27}, "value": -13.5}, "labelPadding": 33, "title": "Σ Yield", "titleAnchor": "end", "titleFontSize": 28, "titlePadding": 21}}
          }
        },
        {
          "data": {"values": [{"t": "-"}]},
          "mark": {"type": "text", "font": "Liberation Serif", "fontSize": 55, "align": "center", "baseline": "alphabetic", "color": "black"},
          "encoding": {
            "text": {"field": "t"},
            "x": {"datum": 0.5804, "type": "quantitative", "scale": {"domain": [0.4655, 1.4216], "nice": false, "zero": false},
              "axis": {"values": [0.48, 0.5, 0.52, 0.54, 0.56, 0.58, 0.6, 0.62, 0.64, 0.66, 0.68, 0.7, 0.72, 0.74, 0.76, 0.78, 0.8, 0.82, 0.84, 0.86, 0.88, 0.9, 0.92, 0.94, 0.96, 0.98, 1, 1.02, 1.04, 1.06, 1.08, 1.1, 1.12, 1.14, 1.16, 1.18, 1.2, 1.22, 1.24, 1.26, 1.28, 1.3, 1.32, 1.34, 1.36, 1.38, 1.4, 1.42], "tickCount": 60, "labelExpr": "abs(datum.value*10 - round(datum.value*10)) < 0.001 ? format(datum.value, '~g') : ''", "tickSize": {"condition": {"test": "abs(datum.value*10 - round(datum.value*10)) < 0.001", "value": -18}, "value": -9}, "labelPadding": 21, "title": "p\u00a0\u00a0\u00a0[GeV/c]", "titleAnchor": "end", "titleFontSize": 26, "titlePadding": -9}},
            "y": {"datum": 30.03, "type": "quantitative", "scale": {"domain": [0, 33], "nice": false, "zero": false},
              "axis": {"values": [0, 1, 2, 3, 4, 5, 6, 7, 8, 9, 10, 11, 12, 13, 14, 15, 16, 17, 18, 19, 20, 21, 22, 23, 24, 25, 26, 27, 28, 29, 30, 31, 32, 33], "tickCount": 50, "labelExpr": "datum.value % 5 == 0 ? format(datum.value, 'd') : ''", "tickSize": {"condition": {"test": "datum.value % 5 == 0", "value": -27}, "value": -13.5}, "labelPadding": 33, "title": "Σ Yield", "titleAnchor": "end", "titleFontSize": 28, "titlePadding": 21}}
          }
        },
        {
          "data": {"values": [{"t": "yield"}]},
          "mark": {"type": "text", "font": "Liberation Serif", "fontSize": 85, "align": "left", "baseline": "alphabetic", "color": "black"},
          "encoding": {
            "text": {"field": "t"},
            "x": {"datum": 0.6149, "type": "quantitative", "scale": {"domain": [0.4655, 1.4216], "nice": false, "zero": false},
              "axis": {"values": [0.48, 0.5, 0.52, 0.54, 0.56, 0.58, 0.6, 0.62, 0.64, 0.66, 0.68, 0.7, 0.72, 0.74, 0.76, 0.78, 0.8, 0.82, 0.84, 0.86, 0.88, 0.9, 0.92, 0.94, 0.96, 0.98, 1, 1.02, 1.04, 1.06, 1.08, 1.1, 1.12, 1.14, 1.16, 1.18, 1.2, 1.22, 1.24, 1.26, 1.28, 1.3, 1.32, 1.34, 1.36, 1.38, 1.4, 1.42], "tickCount": 60, "labelExpr": "abs(datum.value*10 - round(datum.value*10)) < 0.001 ? format(datum.value, '~g') : ''", "tickSize": {"condition": {"test": "abs(datum.value*10 - round(datum.value*10)) < 0.001", "value": -18}, "value": -9}, "labelPadding": 21, "title": "p\u00a0\u00a0\u00a0[GeV/c]", "titleAnchor": "end", "titleFontSize": 26, "titlePadding": -9}},
            "y": {"datum": 28.71, "type": "quantitative", "scale": {"domain": [0, 33], "nice": false, "zero": false},
              "axis": {"values": [0, 1, 2, 3, 4, 5, 6, 7, 8, 9, 10, 11, 12, 13, 14, 15, 16, 17, 18, 19, 20, 21, 22, 23, 24, 25, 26, 27, 28, 29, 30, 31, 32, 33], "tickCount": 50, "labelExpr": "datum.value % 5 == 0 ? format(datum.value, 'd') : ''", "tickSize": {"condition": {"test": "datum.value % 5 == 0", "value": -27}, "value": -13.5}, "labelPadding": 33, "title": "Σ Yield", "titleAnchor": "end", "titleFontSize": 28, "titlePadding": 21}}
          }
        },
        {
          "data": {"values": [{"t": "×10"}]},
          "mark": {"type": "text", "font": "Liberation Sans", "fontSize": 24, "align": "left", "baseline": "alphabetic", "color": "black"},
          "encoding": {
            "text": {"field": "t"},
            "x": {"datum": 0.4684, "type": "quantitative", "scale": {"domain": [0.4655, 1.4216], "nice": false, "zero": false},
              "axis": {"values": [0.48, 0.5, 0.52, 0.54, 0.56, 0.58, 0.6, 0.62, 0.64, 0.66, 0.68, 0.7, 0.72, 0.74, 0.76, 0.78, 0.8, 0.82, 0.84, 0.86, 0.88, 0.9, 0.92, 0.94, 0.96, 0.98, 1, 1.02, 1.04, 1.06, 1.08, 1.1, 1.12, 1.14, 1.16, 1.18, 1.2, 1.22, 1.24, 1.26, 1.28, 1.3, 1.32, 1.34, 1.36, 1.38, 1.4, 1.42], "tickCount": 60, "labelExpr": "abs(datum.value*10 - round(datum.value*10)) < 0.001 ? format(datum.value, '~g') : ''", "tickSize": {"condition": {"test": "abs(datum.value*10 - round(datum.value*10)) < 0.001", "value": -18}, "value": -9}, "labelPadding": 21, "title": "p\u00a0\u00a0\u00a0[GeV/c]", "titleAnchor": "end", "titleFontSize": 26, "titlePadding": -9}},
            "y": {"datum": 33.15, "type": "quantitative", "scale": {"domain": [0, 33], "nice": false, "zero": false},
              "axis": {"values": [0, 1, 2, 3, 4, 5, 6, 7, 8, 9, 10, 11, 12, 13, 14, 15, 16, 17, 18, 19, 20, 21, 22, 23, 24, 25, 26, 27, 28, 29, 30, 31, 32, 33], "tickCount": 50, "labelExpr": "datum.value % 5 == 0 ? format(datum.value, 'd') : ''", "tickSize": {"condition": {"test": "datum.value % 5 == 0", "value": -27}, "value": -13.5}, "labelPadding": 33, "title": "Σ Yield", "titleAnchor": "end", "titleFontSize": 28, "titlePadding": 21}}
          }
        },
        {
          "data": {"values": [{"t": "6"}]},
          "mark": {"type": "text", "font": "Liberation Sans", "fontSize": 17, "align": "left", "baseline": "alphabetic", "color": "black"},
          "encoding": {
            "text": {"field": "t"},
            "x": {"datum": 0.5151, "type": "quantitative", "scale": {"domain": [0.4655, 1.4216], "nice": false, "zero": false},
              "axis": {"values": [0.48, 0.5, 0.52, 0.54, 0.56, 0.58, 0.6, 0.62, 0.64, 0.66, 0.68, 0.7, 0.72, 0.74, 0.76, 0.78, 0.8, 0.82, 0.84, 0.86, 0.88, 0.9, 0.92, 0.94, 0.96, 0.98, 1, 1.02, 1.04, 1.06, 1.08, 1.1, 1.12, 1.14, 1.16, 1.18, 1.2, 1.22, 1.24, 1.26, 1.28, 1.3, 1.32, 1.34, 1.36, 1.38, 1.4, 1.42], "tickCount": 60, "labelExpr": "abs(datum.value*10 - round(datum.value*10)) < 0.001 ? format(datum.value, '~g') : ''", "tickSize": {"condition": {"test": "abs(datum.value*10 - round(datum.value*10)) < 0.001", "value": -18}, "value": -9}, "labelPadding": 21, "title": "p\u00a0\u00a0\u00a0[GeV/c]", "titleAnchor": "end", "titleFontSize": 26, "titlePadding": -9}},
            "y": {"datum": 33.75, "type": "quantitative", "scale": {"domain": [0, 33], "nice": false, "zero": false},
              "axis": {"values": [0, 1, 2, 3, 4, 5, 6, 7, 8, 9, 10, 11, 12, 13, 14, 15, 16, 17, 18, 19, 20, 21, 22, 23, 24, 25, 26, 27, 28, 29, 30, 31, 32, 33], "tickCount": 50, "labelExpr": "datum.value % 5 == 0 ? format(datum.value, 'd') : ''", "tickSize": {"condition": {"test": "datum.value % 5 == 0", "value": -27}, "value": -13.5}, "labelPadding": 33, "title": "Σ Yield", "titleAnchor": "end", "titleFontSize": 28, "titlePadding": 21}}
          }
        },
        {
          "data": {"values": [{"t": "Σ"}]},
          "mark": {"type": "text", "font": "Liberation Sans", "fontSize": 16, "align": "center", "baseline": "alphabetic", "color": "black"},
          "encoding": {
            "text": {"field": "t"},
            "x": {"datum": 1.3145, "type": "quantitative", "scale": {"domain": [0.4655, 1.4216], "nice": false, "zero": false},
              "axis": {"values": [0.48, 0.5, 0.52, 0.54, 0.56, 0.58, 0.6, 0.62, 0.64, 0.66, 0.68, 0.7, 0.72, 0.74, 0.76, 0.78, 0.8, 0.82, 0.84, 0.86, 0.88, 0.9, 0.92, 0.94, 0.96, 0.98, 1, 1.02, 1.04, 1.06, 1.08, 1.1, 1.12, 1.14, 1.16, 1.18, 1.2, 1.22, 1.24, 1.26, 1.28, 1.3, 1.32, 1.34, 1.36, 1.38, 1.4, 1.42], "tickCount": 60, "labelExpr": "abs(datum.value*10 - round(datum.value*10)) < 0.001 ? format(datum.value, '~g') : ''", "tickSize": {"condition": {"test": "abs(datum.value*10 - round(datum.value*10)) < 0.001", "value": -18}, "value": -9}, "labelPadding": 21, "title": "p\u00a0\u00a0\u00a0[GeV/c]", "titleAnchor": "end", "titleFontSize": 26, "titlePadding": -9}},
            "y": {"datum": -3.72, "type": "quantitative", "scale": {"domain": [0, 33], "nice": false, "zero": false},
              "axis": {"values": [0, 1, 2, 3, 4, 5, 6, 7, 8, 9, 10, 11, 12, 13, 14, 15, 16, 17, 18, 19, 20, 21, 22, 23, 24, 25, 26, 27, 28, 29, 30, 31, 32, 33], "tickCount": 50, "labelExpr": "datum.value % 5 == 0 ? format(datum.value, 'd') : ''", "tickSize": {"condition": {"test": "datum.value % 5 == 0", "value": -27}, "value": -13.5}, "labelPadding": 33, "title": "Σ Yield", "titleAnchor": "end", "titleFontSize": 28, "titlePadding": 21}}
          }
        },
        {
          "data": {"values": [{"t": "Σ"}]},
          "mark": {"type": "text", "font": "Liberation Serif", "fontSize": 74, "align": "left", "baseline": "alphabetic", "color": "black"},
          "encoding": {
            "text": {"field": "t"},
            "x": {"datum": 0.4471, "type": "quantitative", "scale": {"domain": [0.4655, 1.4216], "nice": false, "zero": false},
              "axis": {"values": [0.48, 0.5, 0.52, 0.54, 0.56, 0.58, 0.6, 0.62, 0.64, 0.66, 0.68, 0.7, 0.72, 0.74, 0.76, 0.78, 0.8, 0.82, 0.84, 0.86, 0.88, 0.9, 0.92, 0.94, 0.96, 0.98, 1, 1.02, 1.04, 1.06, 1.08, 1.1, 1.12, 1.14, 1.16, 1.18, 1.2, 1.22, 1.24, 1.26, 1.28, 1.3, 1.32, 1.34, 1.36, 1.38, 1.4, 1.42], "tickCount": 60, "labelExpr": "abs(datum.value*10 - round(datum.value*10)) < 0.001 ? format(datum.value, '~g') : ''", "tickSize": {"condition": {"test": "abs(datum.value*10 - round(datum.value*10)) < 0.001", "value": -18}, "value": -9}, "labelPadding": 21, "title": "p\u00a0\u00a0\u00a0[GeV/c]", "titleAnchor": "end", "titleFontSize": 26, "titlePadding": -9}},
            "y": {"datum": -5.9, "type": "quantitative", "scale": {"domain": [0, 33], "nice": false, "zero": false},
              "axis": {"values": [0, 1, 2, 3, 4, 5, 6, 7, 8, 9, 10, 11, 12, 13, 14, 15, 16, 17, 18, 19, 20, 21, 22, 23, 24, 25, 26, 27, 28, 29, 30, 31, 32, 33], "tickCount": 50, "labelExpr": "datum.value % 5 == 0 ? format(datum.value, 'd') : ''", "tickSize": {"condition": {"test": "datum.value % 5 == 0", "value": -27}, "value": -13.5}, "labelPadding": 33, "title": "Σ Yield", "titleAnchor": "end", "titleFontSize": 28, "titlePadding": 21}}
          }
        },
        {
          "data": {"values": [{"t": "±"}]},
          "mark": {"type": "text", "font": "Liberation Serif", "fontSize": 62, "align": "center", "baseline": "alphabetic", "color": "black"},
          "encoding": {
            "text": {"field": "t"},
            "x": {"datum": 0.521, "type": "quantitative", "scale": {"domain": [0.4655, 1.4216], "nice": false, "zero": false},
              "axis": {"values": [0.48, 0.5, 0.52, 0.54, 0.56, 0.58, 0.6, 0.62, 0.64, 0.66, 0.68, 0.7, 0.72, 0.74, 0.76, 0.78, 0.8, 0.82, 0.84, 0.86, 0.88, 0.9, 0.92, 0.94, 0.96, 0.98, 1, 1.02, 1.04, 1.06, 1.08, 1.1, 1.12, 1.14, 1.16, 1.18, 1.2, 1.22, 1.24, 1.26, 1.28, 1.3, 1.32, 1.34, 1.36, 1.38, 1.4, 1.42], "tickCount": 60, "labelExpr": "abs(datum.value*10 - round(datum.value*10)) < 0.001 ? format(datum.value, '~g') : ''", "tickSize": {"condition": {"test": "abs(datum.value*10 - round(datum.value*10)) < 0.001", "value": -18}, "value": -9}, "labelPadding": 21, "title": "p\u00a0\u00a0\u00a0[GeV/c]", "titleAnchor": "end", "titleFontSize": 26, "titlePadding": -9}},
            "y": {"datum": -4.75, "type": "quantitative", "scale": {"domain": [0, 33], "nice": false, "zero": false},
              "axis": {"values": [0, 1, 2, 3, 4, 5, 6, 7, 8, 9, 10, 11, 12, 13, 14, 15, 16, 17, 18, 19, 20, 21, 22, 23, 24, 25, 26, 27, 28, 29, 30, 31, 32, 33], "tickCount": 50, "labelExpr": "datum.value % 5 == 0 ? format(datum.value, 'd') : ''", "tickSize": {"condition": {"test": "datum.value % 5 == 0", "value": -27}, "value": -13.5}, "labelPadding": 33, "title": "Σ Yield", "titleAnchor": "end", "titleFontSize": 28, "titlePadding": 21}}
          }
        },
        {
          "data": {"values": [{"t": "yield will exceeds"}]},
          "mark": {"type": "text", "font": "Liberation Serif", "fontSize": 74, "align": "left", "baseline": "alphabetic", "color": "black"},
          "encoding": {
            "text": {"field": "t"},
            "x": {"datum": 0.5718, "type": "quantitative", "scale": {"domain": [0.4655, 1.4216], "nice": false, "zero": false},
              "axis": {"values": [0.48, 0.5, 0.52, 0.54, 0.56, 0.58, 0.6, 0.62, 0.64, 0.66, 0.68, 0.7, 0.72, 0.74, 0.76, 0.78, 0.8, 0.82, 0.84, 0.86, 0.88, 0.9, 0.92, 0.94, 0.96, 0.98, 1, 1.02, 1.04, 1.06, 1.08, 1.1, 1.12, 1.14, 1.16, 1.18, 1.2, 1.22, 1.24, 1.26, 1.28, 1.3, 1.32, 1.34, 1.36, 1.38, 1.4, 1.42], "tickCount": 60, "labelExpr": "abs(datum.value*10 - round(datum.value*10)) < 0.001 ? format(datum.value, '~g') : ''", "tickSize": {"condition": {"test": "abs(datum.value*10 - round(datum.value*10)) < 0.001", "value": -18}, "value": -9}, "labelPadding": 21, "title": "p\u00a0\u00a0\u00a0[GeV/c]", "titleAnchor": "end", "titleFontSize": 26, "titlePadding": -9}},
            "y": {"datum": -5.9, "type": "quantitative", "scale": {"domain": [0, 33], "nice": false, "zero": false},
              "axis": {"values": [0, 1, 2, 3, 4, 5, 6, 7, 8, 9, 10, 11, 12, 13, 14, 15, 16, 17, 18, 19, 20, 21, 22, 23, 24, 25, 26, 27, 28, 29, 30, 31, 32, 33], "tickCount": 50, "labelExpr": "datum.value % 5 == 0 ? format(datum.value, 'd') : ''", "tickSize": {"condition": {"test": "datum.value % 5 == 0", "value": -27}, "value": -13.5}, "labelPadding": 33, "title": "Σ Yield", "titleAnchor": "end", "titleFontSize": 28, "titlePadding": 21}}
          }
        },
        {
          "data": {"values": [{"t": "E40 data"}]},
          "mark": {"type": "text", "font": "Liberation Serif", "fontSize": 74, "align": "left", "baseline": "alphabetic", "color": "#ff0000"},
          "encoding": {
            "text": {"field": "t"},
            "x": {"datum": 1.1687, "type": "quantitative", "scale": {"domain": [0.4655, 1.4216], "nice": false, "zero": false},
              "axis": {"values": [0.48, 0.5, 0.52, 0.54, 0.56, 0.58, 0.6, 0.62, 0.64, 0.66, 0.68, 0.7, 0.72, 0.74, 0.76, 0.78, 0.8, 0.82, 0.84, 0.86, 0.88, 0.9, 0.92, 0.94, 0.96, 0.98, 1, 1.02, 1.04, 1.06, 1.08, 1.1, 1.12, 1.14, 1.16, 1.18, 1.2, 1.22, 1.24, 1.26, 1.28, 1.3, 1.32, 1.34, 1.36, 1.38, 1.4, 1.42], "tickCount": 60, "labelExpr": "abs(datum.value*10 - round(datum.value*10)) < 0.001 ? format(datum.value, '~g') : ''", "tickSize": {"condition": {"test": "abs(datum.value*10 - round(datum.value*10)) < 0.001", "value": -18}, "value": -9}, "labelPadding": 21, "title": "p\u00a0\u00a0\u00a0[GeV/c]", "titleAnchor": "end", "titleFontSize": 26, "titlePadding": -9}},
            "y": {"datum": -5.9, "type": "quantitative", "scale": {"domain": [0, 33], "nice": false, "zero": false},
              "axis": {"values": [0, 1, 2, 3, 4, 5, 6, 7, 8, 9, 10, 11, 12, 13, 14, 15, 16, 17, 18, 19, 20, 21, 22, 23, 24, 25, 26, 27, 28, 29, 30, 31, 32, 33], "tickCount": 50, "labelExpr": "datum.value % 5 == 0 ? format(datum.value, 'd') : ''", "tickSize": {"condition": {"test": "datum.value % 5 == 0", "value": -27}, "value": -13.5}, "labelPadding": 33, "title": "Σ Yield", "titleAnchor": "end", "titleFontSize": 28, "titlePadding": 21}}
          }
        },
        {
          "data": {"values": [{"t": "for wider momentum!"}]},
          "mark": {"type": "text", "font": "Liberation Serif", "fontSize": 74, "align": "left", "baseline": "alphabetic", "color": "black"},
          "encoding": {
            "text": {"field": "t"},
            "x": {"datum": 0.4487, "type": "quantitative", "scale": {"domain": [0.4655, 1.4216], "nice": false, "zero": false},
              "axis": {"values": [0.48, 0.5, 0.52, 0.54, 0.56, 0.58, 0.6, 0.62, 0.64, 0.66, 0.68, 0.7, 0.72, 0.74, 0.76, 0.78, 0.8, 0.82, 0.84, 0.86, 0.88, 0.9, 0.92, 0.94, 0.96, 0.98, 1, 1.02, 1.04, 1.06, 1.08, 1.1, 1.12, 1.14, 1.16, 1.18, 1.2, 1.22, 1.24, 1.26, 1.28, 1.3, 1.32, 1.34, 1.36, 1.38, 1.4, 1.42], "tickCount": 60, "labelExpr": "abs(datum.value*10 - round(datum.value*10)) < 0.001 ? format(datum.value, '~g') : ''", "tickSize": {"condition": {"test": "abs(datum.value*10 - round(datum.value*10)) < 0.001", "value": -18}, "value": -9}, "labelPadding": 21, "title": "p\u00a0\u00a0\u00a0[GeV/c]", "titleAnchor": "end", "titleFontSize": 26, "titlePadding": -9}},
            "y": {"datum": -10.59, "type": "quantitative", "scale": {"domain": [0, 33], "nice": false, "zero": false},
              "axis": {"values": [0, 1, 2, 3, 4, 5, 6, 7, 8, 9, 10, 11, 12, 13, 14, 15, 16, 17, 18, 19, 20, 21, 22, 23, 24, 25, 26, 27, 28, 29, 30, 31, 32, 33], "tickCount": 50, "labelExpr": "datum.value % 5 == 0 ? format(datum.value, 'd') : ''", "tickSize": {"condition": {"test": "datum.value % 5 == 0", "value": -27}, "value": -13.5}, "labelPadding": 33, "title": "Σ Yield", "titleAnchor": "end", "titleFontSize": 28, "titlePadding": 21}}
          }
        }
      ]
    }
  ],
  "resolve": {
    "scale": {"color": "independent", "shape": "independent", "size": "independent"},
    "legend": {"color": "independent", "shape": "independent"}
  },
  "config": {
    "font": "Liberation Sans",
    "view": {"stroke": "#333", "strokeWidth": 1.2},
    "axis": {
      "labelFont": "Liberation Sans", "labelFontSize": 26, "labelColor": "black",
      "tickColor": "#333", "tickWidth": 1.2, "domain": false, "grid": false,
      "titleFont": "Liberation Sans", "titleFontWeight": "normal", "titleColor": "black",
      "labelOverlap": false, "labelFlush": false
    }
  }
}
